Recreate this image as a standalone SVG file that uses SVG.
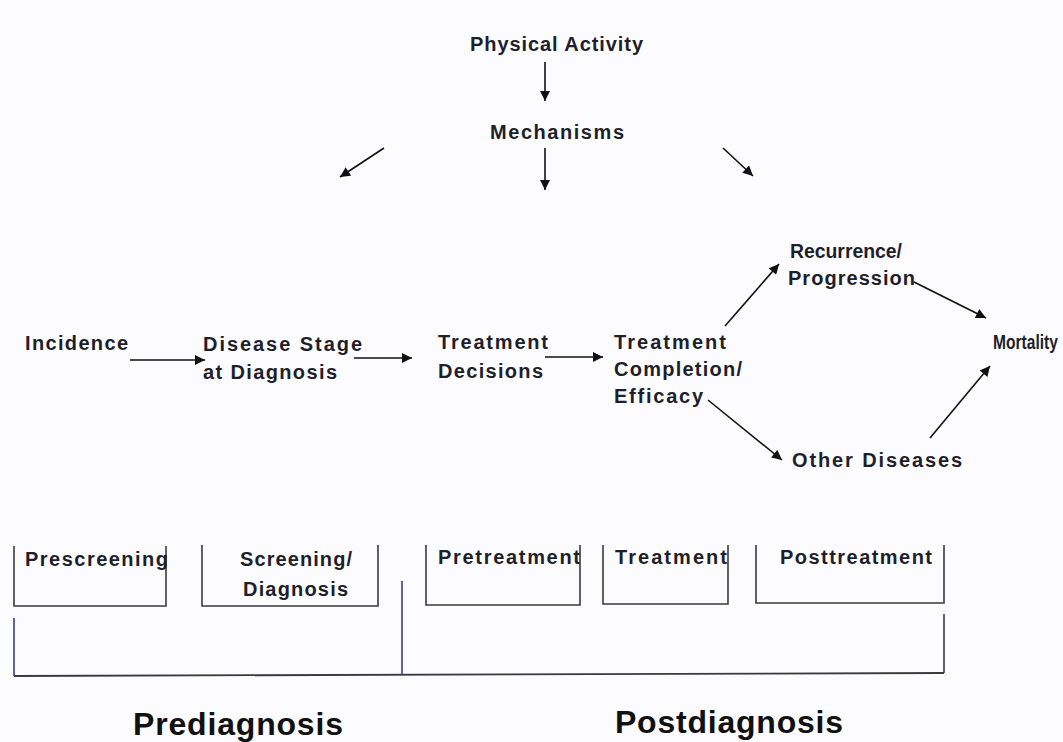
<svg xmlns="http://www.w3.org/2000/svg" width="1063" height="742" viewBox="0 0 1063 742">
<style>
.t{font-family:"Liberation Sans",Arial,sans-serif;font-weight:bold;font-size:20px;fill:#1f1f2b}
.big{font-family:"Liberation Sans",Arial,sans-serif;font-weight:bold;font-size:32px;fill:#111}
.c{stroke:#111;stroke-width:1.6;fill:none;marker-end:url(#ah)}
.bx{stroke:#3a3a3a;stroke-width:1.6;fill:none}
.br{stroke:#3a3a3a;stroke-width:1.8;fill:none}
.bv{stroke:#3b3a8c;stroke-width:1.6;fill:none}
</style>
<defs>
<marker id="ah" viewBox="0 0 10 10" refX="10" refY="5" markerWidth="11" markerHeight="10" markerUnits="userSpaceOnUse" orient="auto">
<path d="M0,0 L10,5 L0,10 z" fill="#111"/>
</marker>
</defs>
<rect width="1063" height="742" fill="#fcfcfe"/>
<g id="connectors">
<line class="c" x1="545" y1="62" x2="545" y2="101"/>
<line class="c" x1="545" y1="148" x2="545" y2="190"/>
<line class="c" x1="384" y1="148" x2="340" y2="177"/>
<line class="c" x1="723" y1="148" x2="753" y2="176"/>
<line class="c" x1="130" y1="360" x2="205" y2="360"/>
<line class="c" x1="354" y1="358" x2="412" y2="358"/>
<line class="c" x1="545" y1="357" x2="603" y2="357"/>
<line class="c" x1="725" y1="326" x2="779" y2="264"/>
<line class="c" x1="914" y1="282" x2="986" y2="318"/>
<line class="c" x1="708" y1="400" x2="782" y2="460"/>
<line class="c" x1="930" y1="438" x2="990" y2="366"/>
</g>
<g id="physical-activity"><text class="t" x="470" y="51" textLength="173" lengthAdjust="spacing">Physical Activity</text></g>
<g id="mechanisms"><text class="t" x="490" y="139" textLength="134" lengthAdjust="spacing">Mechanisms</text></g>
<g id="incidence"><text class="t" x="25" y="350" textLength="103" lengthAdjust="spacing">Incidence</text></g>
<g id="disease-stage">
<text class="t" x="203" y="351" textLength="159" lengthAdjust="spacing">Disease Stage</text>
<text class="t" x="203" y="379" textLength="134" lengthAdjust="spacing">at Diagnosis</text>
</g>
<g id="treatment-decisions">
<text class="t" x="438" y="349" textLength="110" lengthAdjust="spacing">Treatment</text>
<text class="t" x="438" y="378" textLength="105" lengthAdjust="spacing">Decisions</text>
</g>
<g id="treatment-completion">
<text class="t" x="614" y="349" textLength="112" lengthAdjust="spacing">Treatment</text>
<text class="t" x="614" y="376" textLength="128" lengthAdjust="spacing">Completion/</text>
<text class="t" x="614" y="403" textLength="89" lengthAdjust="spacing">Efficacy</text>
</g>
<g id="recurrence">
<text class="t" x="790" y="258" textLength="112" lengthAdjust="spacingAndGlyphs">Recurrence/</text>
<text class="t" x="788" y="285" textLength="127" lengthAdjust="spacing">Progression</text>
</g>
<g id="mortality"><text class="t" transform="translate(993,349) scale(0.78,1)" x="0" y="0">Mortality</text></g>
<g id="other-diseases"><text class="t" x="792" y="467" textLength="170" lengthAdjust="spacing">Other Diseases</text></g>
<g id="prescreening">
<path class="bx" d="M14,546 V606 H166 V546"/>
<text class="t" x="25" y="566" textLength="143" lengthAdjust="spacing">Prescreening</text>
</g>
<g id="screening">
<path class="bx" d="M202,545 V606 H378 V545"/>
<text class="t" x="240" y="566" textLength="112" lengthAdjust="spacing">Screening/</text>
<text class="t" x="243" y="596" textLength="105" lengthAdjust="spacing">Diagnosis</text>
</g>
<g id="pretreatment">
<path class="bx" d="M426,545 V605 H580 V545"/>
<text class="t" x="438" y="564" textLength="142" lengthAdjust="spacing">Pretreatment</text>
</g>
<g id="treatment">
<path class="bx" d="M603,545 V604 H728 V545"/>
<text class="t" x="615" y="564" textLength="112" lengthAdjust="spacing">Treatment</text>
</g>
<g id="posttreatment">
<path class="bx" d="M756,545 V603 H944 V545"/>
<text class="t" x="780" y="564" textLength="152" lengthAdjust="spacing">Posttreatment</text>
</g>
<g id="bracket">
<line class="bv" x1="14" y1="618" x2="14" y2="676"/>
<line class="br" x1="14" y1="676" x2="944" y2="673"/>
<line class="bx" x1="944" y1="614" x2="944" y2="673"/>
<line class="bv" x1="402" y1="581" x2="402" y2="675"/>
</g>
<g id="prediagnosis"><text class="big" x="133" y="735" textLength="210" lengthAdjust="spacing">Prediagnosis</text></g>
<g id="postdiagnosis"><text class="big" x="615" y="733" textLength="228" lengthAdjust="spacing">Postdiagnosis</text></g>
</svg>
